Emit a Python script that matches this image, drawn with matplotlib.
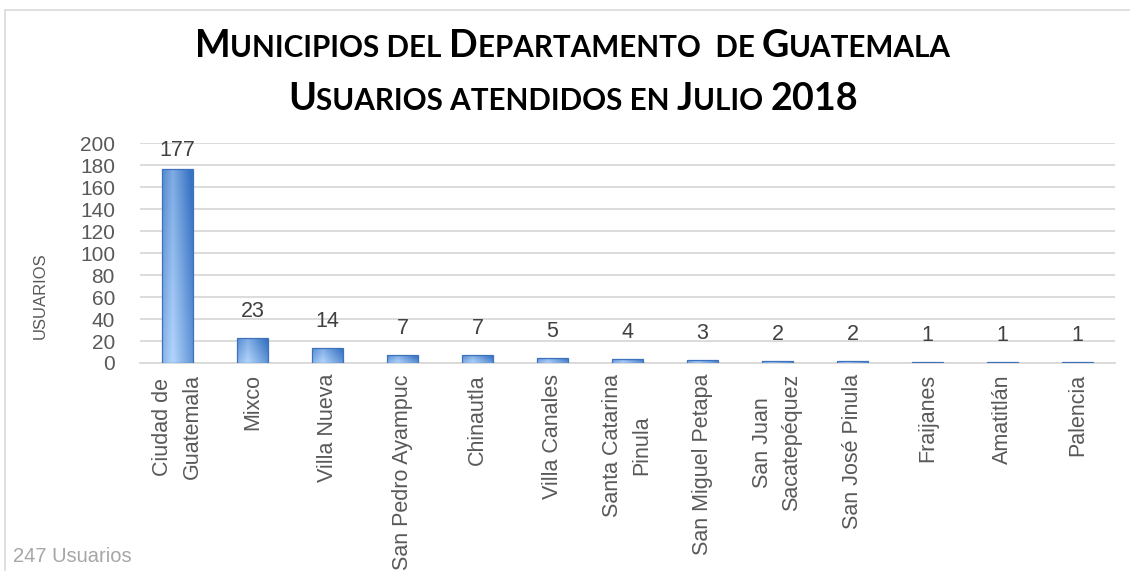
import numpy as np
import matplotlib.pyplot as plt
from matplotlib.patches import Rectangle

municipios = ["Ciudad de\nGuatemala", "Mixco", "Villa Nueva", "San Pedro Ayampuc",
              "Chinautla", "Villa Canales", "Santa Catarina\nPinula",
              "San Miguel Petapa", "San Juan\nSacatepéquez", "San José Pinula",
              "Fraijanes", "Amatitlán", "Palencia"]
usuarios = [177, 23, 14, 7, 7, 5, 4, 3, 2, 2, 1, 1, 1]
yticks = list(range(0, 201, 20))
titulo = ["Municipios del Departamento  de Guatemala",
          "Usuarios atendidos en Julio 2018"]
nota = "247 Usuarios"

TITLE_FONT = "Lato"
BODY_FONT = "Liberation Sans"

W, H = 1130, 571
fig = plt.figure(figsize=(W / 100, H / 100), dpi=100)
ax = fig.add_axes([140 / W, 1 - 363 / H, (1115 - 140) / W, (363 - 143.3) / H])

# outer chart border
fig.patches.append(Rectangle((5 / W, -0.05), 1.1, 1 - 10 / H + 0.05,
                             transform=fig.transFigure, fill=False,
                             edgecolor="#d9d9d9", lw=1.2))

x = np.arange(len(usuarios))
bars = ax.bar(x, usuarios, width=0.41, color="#6b9be0", edgecolor="#3f72bd",
              linewidth=0.9, zorder=3)

# gradient fill clipped to each bar
cols = np.linspace(0, 1, 64)
light = np.array([0.68, 0.82, 0.98])
dark = np.array([0.22, 0.45, 0.76])
hmix = np.clip(1 - np.abs(cols - 0.35) * 1.5, 0, 1)
rows = np.linspace(0, 1, 64)[:, None]
for b in bars:
    x0, y0 = b.get_x(), b.get_y()
    bw, bh = b.get_width(), b.get_height()
    mix = np.clip(hmix[None, :] * 0.7 + (1 - rows) * 0.45 - 0.1, 0, 1)
    img = light * mix[..., None] + dark * (1 - mix[..., None])
    im = ax.imshow(img, extent=[x0, x0 + bw, y0 + bh, y0], aspect="auto",
                   zorder=3.5, interpolation="bilinear")
    im.set_clip_path(b)
    b.set_facecolor("none")
    b.set_zorder(4)

# value labels, kept inside the plot area like the original
for xi, v in zip(x, usuarios):
    ax.text(xi, min(v + 24, 193), str(v), ha="center", va="center",
            fontsize=15.5, color="#404040", family=BODY_FONT, zorder=5)

ax.set_xlim(-0.5, len(usuarios) - 0.5)
ax.set_ylim(0, 200)
ax.set_yticks(yticks)
ax.set_yticklabels([str(t) for t in yticks], fontsize=15, color="#595959",
                   family=BODY_FONT)
ax.set_xticks(x)
ax.set_xticklabels(municipios, rotation=90, fontsize=15.5, color="#595959",
                   family=BODY_FONT, ha="center", va="top", multialignment="center",
                   linespacing=1.5)
ax.tick_params(axis="y", length=0, pad=18)
ax.tick_params(axis="x", length=0, pad=8)
ax.grid(axis="y", color="#d9d9d9", lw=1.3, zorder=0)
ax.set_axisbelow(True)
for s in ["top", "right", "left"]:
    ax.spines[s].set_visible(False)
ax.spines["bottom"].set_color("#d9d9d9")
ax.spines["bottom"].set_linewidth(1.3)

fig.text(40 / W, 1 - 296 / H, "USUARIOS", rotation=90, ha="center", va="center",
         fontsize=12, color="#595959", family=BODY_FONT)
fig.text(13 / W, 1 - 557 / H, nota, ha="left", va="center", fontsize=14.5,
         color="#a6a6a6", family=BODY_FONT)


# small-caps title built from pieces
def small_caps(line, baseline, big=27.2, small=21.3):
    renderer = fig.canvas.get_renderer()
    runs = []
    for ch in line:
        if ch == " ":
            t, s = "\u00a0", small
        elif ch.isupper() or ch.isdigit():
            t, s = ch, big
        else:
            t, s = ch.upper(), small
        if runs and runs[-1][1] == s:
            runs[-1][0] += t
        else:
            runs.append([t, s])
    texts, widths = [], []
    for t, s in runs:
        tx = fig.text(0, 1 - baseline / H, t, fontsize=s, fontweight="bold",
                      family=TITLE_FONT, ha="left", va="baseline", color="black")
        texts.append(tx)
        widths.append(tx.get_window_extent(renderer).width)
    xp = W / 2 - sum(widths) / 2 + 8
    for tx, w in zip(texts, widths):
        tx.set_x(xp / W)
        xp += w


small_caps(titulo[0], 57)
small_caps(titulo[1], 110)

fig.savefig("out.png", dpi=100)
